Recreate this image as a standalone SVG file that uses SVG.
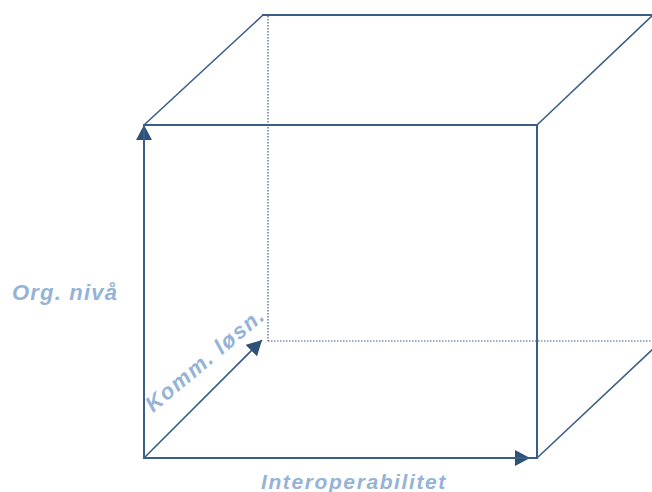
<svg xmlns="http://www.w3.org/2000/svg" width="652" height="492" viewBox="0 0 652 492">
  <style>
    .edge { stroke: #3B5E88; stroke-width: 2; fill: none; stroke-linecap: square; }
    .slant { stroke: #3B5E88; stroke-width: 1.6; fill: none; }
    .hidden { stroke: #3B5E88; stroke-width: 1.2; fill: none; stroke-dasharray: 1.5 1.5; }
    .axis { stroke: #3B5E88; stroke-width: 2; fill: none; marker-end: url(#head); }
    .axis-slant { stroke: #3B5E88; stroke-width: 1.6; fill: none; marker-end: url(#head); }
    .label { font-family: "Liberation Sans", Arial, sans-serif; font-weight: bold; font-style: italic; font-size: 21px; fill: #95B3D7; letter-spacing: 1.6px; }
  </style>
  <defs>
    <marker id="head" markerUnits="userSpaceOnUse" markerWidth="16" markerHeight="16" refX="15" refY="8" orient="auto">
      <path d="M0,0 L15,8 L0,16 Z" fill="#2E5178"/>
    </marker>
  </defs>

  <rect width="652" height="492" fill="#FFFFFF"/>

  <!-- cube wireframe -->
  <g id="cube">
    <!-- hidden back edges -->
    <line class="hidden" x1="268" y1="16" x2="268" y2="341"/>
    <line class="hidden" x1="268" y1="341" x2="652" y2="341"/>
    <!-- back top edge -->
    <line class="edge" x1="263" y1="15" x2="652" y2="15"/>
    <!-- receding edges -->
    <line class="slant" x1="144" y1="125" x2="263" y2="15"/>
    <line class="slant" x1="537" y1="125" x2="653" y2="15"/>
    <line class="slant" x1="537" y1="458" x2="653" y2="349"/>
    <!-- front face -->
    <line class="edge" x1="144" y1="125" x2="537" y2="125"/>
    <line class="edge" x1="537" y1="125" x2="537" y2="458"/>
  </g>

  <!-- axes -->
  <g id="connectors">
    <line class="axis" x1="144" y1="458" x2="144" y2="125"/>
    <line class="axis" x1="144" y1="458" x2="530" y2="458"/>
    <line class="axis-slant" x1="144" y1="458" x2="262" y2="340"/>
    <line class="edge" x1="144" y1="458" x2="537" y2="458"/>
    <line class="edge" x1="144" y1="458" x2="144" y2="125"/>
  </g>

  <g id="axis-org">
    <text class="label" x="12" y="300" style="font-size:22px;letter-spacing:1.2px">Org. nivå</text>
  </g>
  <g id="axis-interop">
    <text class="label" x="261" y="489">Interoperabilitet</text>
  </g>
  <g id="axis-komm">
    <text class="label" x="153" y="413" transform="rotate(-40 153 413)" style="font-size:22px;letter-spacing:1.5px">Komm. løsn.</text>
  </g>
</svg>
